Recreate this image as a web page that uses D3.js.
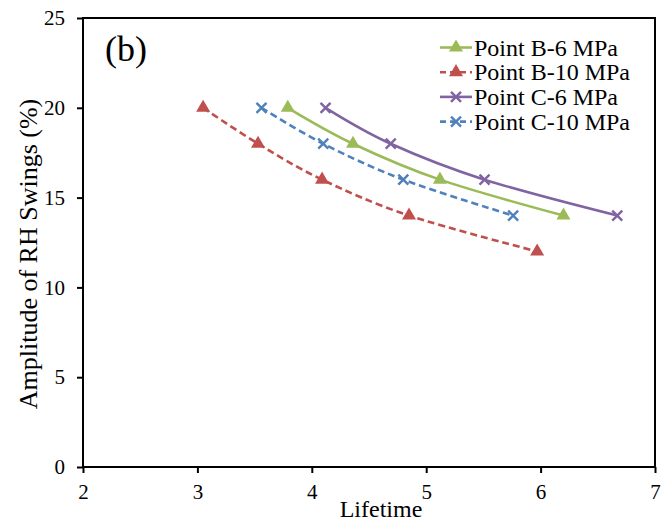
<!DOCTYPE html>
<html>
<head>
<meta charset="utf-8">
<script src="https://cdn.jsdelivr.net/npm/d3@7"></script>
<style>
  body { margin: 0; background: #fff; }
  text { font-family: "Liberation Serif", "Times New Roman", serif; fill: #000; }
</style>
</head>
<body>
<div id="chart"></div>
<script>
// series values
const amplitude = [20, 18, 16, 14, 12];
const lifeB6 = [3.79, 4.36, 5.12, 6.20];
const lifeB10 = [3.05, 3.53, 4.09, 4.85, 5.97];
const lifeC6 = [4.12, 4.69, 5.51, 6.67];
const lifeC10 = [3.56, 4.10, 4.80, 5.76];
const seriesNames = ['Point B-6 MPa', 'Point B-10 MPa', 'Point C-6 MPa', 'Point C-10 MPa'];
const xTicks = [2, 3, 4, 5, 6, 7];
const yTicks = [0, 5, 10, 15, 20, 25];

const series = [
  {name: seriesNames[0], x: lifeB6, color: '#9BBB59', dash: null, marker: 'tri'},
  {name: seriesNames[1], x: lifeB10, color: '#C0504D', dash: '7,4', marker: 'tri'},
  {name: seriesNames[2], x: lifeC6, color: '#8064A2', dash: null, marker: 'x'},
  {name: seriesNames[3], x: lifeC10, color: '#4F81BD', dash: '7,4', marker: 'x'}
];

const W = 669, H = 522;
const margin = {top: 18, right: 14, bottom: 55, left: 83};
const w = W - margin.left - margin.right;
const h = H - margin.top - margin.bottom;

const svg = d3.select('#chart').append('svg')
  .attr('width', W)
  .attr('height', H);

const g = svg.append('g')
  .attr('transform', `translate(${margin.left},${margin.top})`);

const xScale = d3.scaleLinear().domain([2, 7]).range([0, w]);
const yScale = d3.scaleLinear().domain([0, 25]).range([h, 0]);

// axes
const xAxis = g.append('g')
  .attr('transform', `translate(0,${h})`)
  .call(d3.axisBottom(xScale).tickValues(xTicks).tickSize(6).tickPadding(11).tickFormat(d3.format('d')));
const yAxis = g.append('g')
  .call(d3.axisLeft(yScale).tickValues(yTicks).tickSize(6).tickPadding(12).tickFormat(d3.format('d')));

[xAxis, yAxis].forEach(a => {
  a.select('.domain').remove();
  a.selectAll('.tick line').attr('stroke', '#000').attr('stroke-width', 2);
  a.selectAll('.tick text').style('font-size', '21px').attr('fill', '#000');
});

// frame
g.append('rect')
  .attr('x', 0).attr('y', 0)
  .attr('width', w).attr('height', h)
  .attr('fill', 'none')
  .attr('stroke', '#000')
  .attr('stroke-width', 2);

// lines + markers
const line = d3.line()
  .x(d => xScale(d[0]))
  .y(d => yScale(d[1]))
  .curve(d3.curveCatmullRom.alpha(0));

const tri = d3.symbol().type(d3.symbolTriangle).size(85);

function drawMarker(sel, s) {
  if (s.marker === 'tri') {
    sel.append('path')
      .attr('d', tri())
      .attr('fill', s.color);
  } else {
    const r = 5;
    sel.append('path')
      .attr('d', `M${-r},${-r}L${r},${r}M${-r},${r}L${r},${-r}`)
      .attr('stroke', s.color)
      .attr('stroke-width', 2.4)
      .attr('fill', 'none');
  }
}

series.forEach(s => {
  const pts = s.x.map((x, i) => [x, amplitude[i]]);
  g.append('path')
    .attr('d', line(pts))
    .attr('fill', 'none')
    .attr('stroke', s.color)
    .attr('stroke-width', 2.6)
    .attr('stroke-dasharray', s.dash);
  pts.forEach(p => {
    const m = g.append('g').attr('transform', `translate(${xScale(p[0])},${yScale(p[1])})`);
    drawMarker(m, s);
  });
});

// panel label
g.append('text')
  .attr('x', 22).attr('y', 43)
  .style('font-size', '36px')
  .text('(b)');

// legend
const legend = g.append('g').attr('transform', 'translate(357,29.5)');
series.forEach((s, i) => {
  const row = legend.append('g').attr('transform', `translate(0,${i * 24.7})`);
  row.append('line')
    .attr('x1', 0).attr('x2', 32)
    .attr('stroke', s.color)
    .attr('stroke-width', 2.6)
    .attr('stroke-dasharray', s.dash ? '6,4' : null);
  const m = row.append('g').attr('transform', 'translate(16,0)');
  drawMarker(m, s);
  row.append('text')
    .attr('x', 34).attr('y', 8)
    .style('font-size', '24px')
    .text(s.name);
});

// axis titles
svg.append('text')
  .attr('x', 381)
  .attr('y', 517)
  .attr('text-anchor', 'middle')
  .style('font-size', '24px')
  .text('Lifetime');

svg.append('text')
  .attr('transform', 'translate(37,254) rotate(-90)')
  .attr('text-anchor', 'middle')
  .style('font-size', '26px')
  .text('Amplitude of RH Swings (%)');
</script>
</body>
</html>
